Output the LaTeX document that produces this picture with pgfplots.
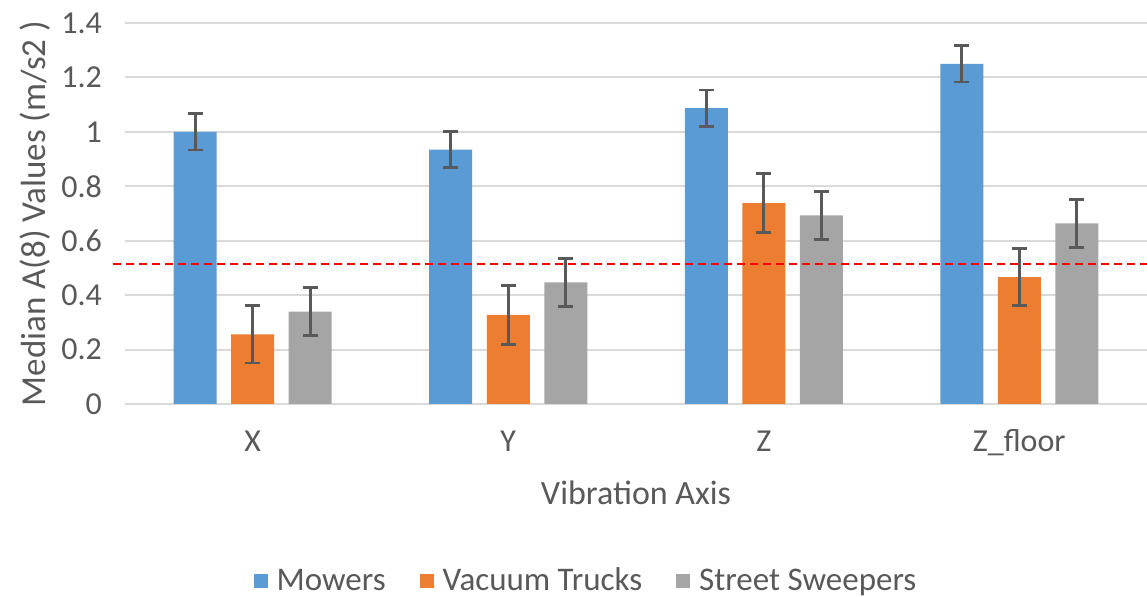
\documentclass[border=0pt]{standalone}
\usepackage{pgfplots}
\pgfplotsset{compat=1.18}
\usepackage{fontspec}
\setmainfont{Carlito}
\definecolor{mow}{HTML}{5B9BD5}
\definecolor{vac}{HTML}{ED7D31}
\definecolor{swp}{HTML}{A5A5A5}
\definecolor{txt}{HTML}{595959}
\definecolor{grd}{HTML}{D9D9D9}
\definecolor{errc}{HTML}{595959}
\begin{document}
\begin{tikzpicture}
\useasboundingbox (-62.5pt,-96.5pt) rectangle (511pt,202pt);
\begin{axis}[
  at={(0,0)}, anchor=south west,
  scale only axis, width=511pt, height=190.5pt,
  ybar, bar width=21.5pt,
  xmin=-0.5, xmax=3.5, ymin=0, ymax=1.4,
  xtick={0,1,2,3}, xticklabels={X,Y,Z,Z\_floor},
  ytick={0,0.2,0.4,0.6,0.8,1,1.2,1.4},
  ymajorgrids, major grid style={grd, line width=1pt},
  axis line style={draw=none},
  major tick length=0pt,
  /pgf/number format/assume math mode=true,
  tick label style={font=\fontsize{16}{18}\selectfont, text=txt},
  yticklabel style={xshift=-8pt},
  xticklabel style={anchor=base, yshift=-24pt},
  xlabel={Vibration Axis}, ylabel={Median A(8) Values (m/s2 )},
  label style={font=\fontsize{17}{20}\selectfont, text=txt},
  ylabel style={font=\fontsize{17.5}{20}\selectfont},
  xlabel style={at={(axis description cs:0.5,-0.265)}, anchor=base},
  ylabel style={at={(axis description cs:-0.088,0.5)}, anchor=center},
  clip=false,
  legend columns=3,
  legend style={at={(axis description cs:0.452,-0.4646)}, anchor=center, draw=none,
    font=\fontsize{16.5}{19}\selectfont, text=txt,
    /tikz/every odd column/.append style={column sep=2.5pt},
    /tikz/every even column/.append style={column sep=15pt}},
  legend image code/.code={\fill[#1] (0pt,-3.5pt) rectangle (7pt,3.5pt);},
  error bars/y dir=both, error bars/y explicit,
  error bars/error bar style={line width=1.3pt, errc},
  error bars/error mark options={rotate=90, mark size=3.75pt, line width=1.3pt, errc},
]
\addplot[ybar, bar shift=-28.75pt, fill=mow, draw=none] coordinates {
  (0,1.000) +- (0,0.067)
  (1,0.935) +- (0,0.066)
  (2,1.087) +- (0,0.067)
  (3,1.250) +- (0,0.067)
};
\addlegendentry{Mowers}
\addplot[ybar, bar shift=0pt, fill=vac, draw=none] coordinates {
  (0,0.256) +- (0,0.105)
  (1,0.327) +- (0,0.108)
  (2,0.738) +- (0,0.108)
  (3,0.466) +- (0,0.105)
};
\addlegendentry{Vacuum Trucks}
\addplot[ybar, bar shift=28.75pt, fill=swp, draw=none] coordinates {
  (0,0.339) +- (0,0.088)
  (1,0.447) +- (0,0.088)
  (2,0.693) +- (0,0.088)
  (3,0.664) +- (0,0.088)
};
\addlegendentry{Street Sweepers}
\addplot[sharp plot, forget plot, red, line width=1pt, dash pattern=on 4pt off 2.5pt, error bars/y dir=none] coordinates {
  (-0.547,0.516) (3.5,0.516)
};
\end{axis}
\end{tikzpicture}
\end{document}
